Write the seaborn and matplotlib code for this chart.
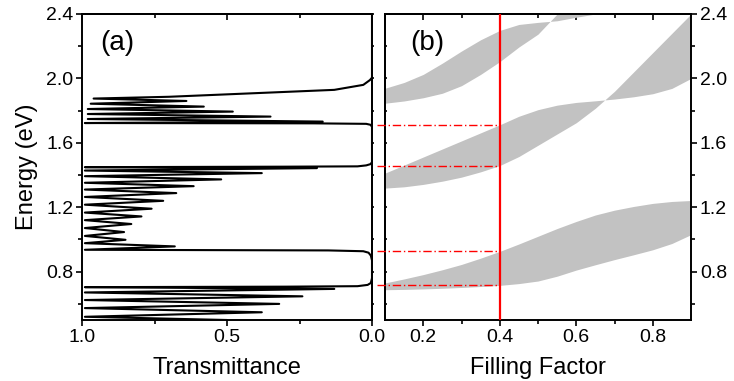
import matplotlib
matplotlib.use("Agg")
import matplotlib.pyplot as plt
import seaborn as sns
import pandas as pd

# ---------------- Panel (a): transmittance spectrum (turning points)
energy_a = [0.500, 0.520, 0.548, 0.574, 0.600, 0.624, 0.647, 0.671, 0.693, 0.704,
            0.707, 0.710, 0.718, 0.730, 0.760, 0.870, 0.900, 0.918, 0.927, 0.932, 0.936,
            0.957, 0.977, 0.998, 1.022, 1.046, 1.071, 1.096, 1.120, 1.143, 1.167,
            1.191, 1.216, 1.240, 1.264, 1.288, 1.310, 1.331, 1.352, 1.373, 1.393,
            1.412, 1.428, 1.443, 1.449,
            1.452, 1.454, 1.460, 1.468, 1.480, 1.700, 1.712, 1.718, 1.721, 1.723,
            1.732, 1.748, 1.763, 1.779, 1.794, 1.810, 1.825, 1.843, 1.860, 1.875,
            1.886, 1.929, 1.960, 1.990, 2.005, 2.400]
trans_a = [0.50, 0.99, 0.38, 0.99, 0.32, 0.99, 0.24, 0.99, 0.13, 0.99,
           0.30, 0.05, 0.015, 0.004, 0.0, 0.0, 0.004, 0.012, 0.03, 0.15, 0.99,
           0.68, 0.99, 0.85, 0.99, 0.855, 0.99, 0.83, 0.99, 0.795, 0.99,
           0.76, 0.99, 0.72, 0.99, 0.675, 0.99, 0.615, 0.99, 0.52, 0.99,
           0.38, 0.99, 0.19, 0.99,
           0.30, 0.05, 0.02, 0.005, 0.0, 0.0, 0.005, 0.02, 0.20, 0.99,
           0.17, 0.98, 0.35, 0.98, 0.48, 0.98, 0.58, 0.97, 0.64, 0.96,
           0.70, 0.13, 0.03, 0.007, 0.0, 0.0]

# ---------------- Panel (b): band-gap edges vs filling factor
filling = [0.10, 0.15, 0.20, 0.25, 0.30, 0.35, 0.40, 0.45, 0.50,
           0.55, 0.60, 0.65, 0.70, 0.75, 0.80, 0.85, 0.90]
gap1_low = [0.688, 0.690, 0.693, 0.697, 0.702, 0.708, 0.715, 0.726, 0.742,
            0.772, 0.810, 0.843, 0.875, 0.905, 0.936, 0.975, 1.030]
gap1_high = [0.730, 0.755, 0.782, 0.812, 0.845, 0.884, 0.926, 0.972, 1.020,
             1.068, 1.112, 1.152, 1.182, 1.205, 1.224, 1.236, 1.242]
gap2_a = [1.319, 1.327, 1.342, 1.362, 1.387, 1.420, 1.459, 1.515, 1.585,
          1.655, 1.725, 1.815, 1.920, 2.040, 2.160, 2.280, 2.400]
gap2_b = [1.412, 1.462, 1.512, 1.562, 1.612, 1.662, 1.712, 1.765, 1.806,
          1.834, 1.851, 1.861, 1.872, 1.886, 1.905, 1.938, 2.000]
gap3_a = [1.846, 1.860, 1.880, 1.908, 1.955, 2.025, 2.104, 2.195, 2.275,
          2.400, 2.400, 2.400, 2.400, 2.400, 2.400, 2.400, 2.400]
gap3_b = [1.939, 1.975, 2.025, 2.095, 2.170, 2.240, 2.298, 2.335, 2.348,
          2.358, 2.380, 2.400, 2.400, 2.400, 2.400, 2.400, 2.400]
ff_marker = 0.4
ff_line_start = 0.078
edge_energies = [0.715, 0.926, 1.459, 1.712]

# ---------------- Ticks
energy_ticks = [0.8, 1.2, 1.6, 2.0, 2.4]
energy_minor = [0.6, 1.0, 1.4, 1.8, 2.2]
trans_ticks = [1.0, 0.5, 0.0]
trans_minor = [0.75, 0.25]
ff_ticks = [0.2, 0.4, 0.6, 0.8]
ff_minor = [0.3, 0.5, 0.7]

sns.set_style("ticks")
plt.rcParams["font.family"] = ["Liberation Sans", "DejaVu Sans"]
plt.rcParams["axes.linewidth"] = 1.4
plt.rcParams["axes.edgecolor"] = "black"
plt.rcParams["xtick.color"] = "black"
plt.rcParams["ytick.color"] = "black"
plt.rcParams["text.color"] = "black"
plt.rcParams["axes.labelcolor"] = "black"

W, H = 734, 381
fig = plt.figure(figsize=(W / 100, H / 100), dpi=100)
axA = fig.add_axes([82 / W, 1 - 320 / H, (372 - 82) / W, (320 - 14) / H])
axB = fig.add_axes([385 / W, 1 - 320 / H, (691 - 385) / W, (320 - 14) / H])

TICK_FS = 14
LABEL_FS = 17
MAJ_LEN, MIN_LEN, TW = 4.3, 2.6, 1.2

# ---- panel (a)
dfa = pd.DataFrame({"T": trans_a, "E": energy_a})
sns.lineplot(data=dfa, x="T", y="E", sort=False, estimator=None,
             color="black", lw=1.5, ax=axA)
axA.set_xlim(1.0, 0.0)
axA.set_ylim(0.5, 2.4)
axA.set_xticks(trans_ticks)
axA.set_xticks(trans_minor, minor=True)
axA.set_xticklabels([f"{t:.1f}" for t in trans_ticks])
axA.set_yticks(energy_ticks)
axA.set_yticks(energy_minor, minor=True)
axA.set_yticklabels([f"{t:.1f}" for t in energy_ticks])
axA.tick_params(which="major", length=MAJ_LEN, width=TW, direction="out",
                labelsize=TICK_FS, pad=2, color="black")
axA.tick_params(which="minor", length=MIN_LEN, width=TW, direction="out",
                color="black")
axA.set_xlabel("Transmittance", fontsize=LABEL_FS, labelpad=8)
axA.set_ylabel("Energy (eV)", fontsize=LABEL_FS, labelpad=6)
axA.text(0.062, 0.905, "(a)", transform=axA.transAxes, fontsize=20,
         ha="left", va="center")

# ---- panel (b)
fill_color = "#c2c2c2"
for lo, hi in [(gap1_low, gap1_high), (gap2_a, gap2_b), (gap3_a, gap3_b)]:
    axB.fill_between(filling, lo, hi, color=fill_color, lw=0)
axB.axvline(ff_marker, color="red", lw=1.6, zorder=5)
axB.hlines(edge_energies, ff_line_start, ff_marker, colors="red", lw=1.0,
           linestyles=[(0, (6, 2, 1, 2))], clip_on=False, zorder=5)
axB.set_xlim(0.1, 0.9)
axB.set_ylim(0.5, 2.4)
axB.set_xticks(ff_ticks)
axB.set_xticks(ff_minor, minor=True)
axB.set_xticklabels([f"{t:.1f}" for t in ff_ticks])
axB.yaxis.tick_right()
axB.set_yticks(energy_ticks)
axB.set_yticks(energy_minor, minor=True)
axB.set_yticklabels([f"{t:.1f}" for t in energy_ticks])
axB.tick_params(which="major", length=MAJ_LEN, width=TW, direction="out",
                labelsize=TICK_FS, pad=2, color="black")
axB.tick_params(which="minor", length=MIN_LEN, width=TW, direction="out",
                color="black")
axB.set_xlabel("Filling Factor", fontsize=LABEL_FS, labelpad=8)
axB.text(0.082, 0.905, "(b)", transform=axB.transAxes, fontsize=20,
         ha="left", va="center")

# ---- extra tick sides (top inward, inner spines short ticks)
for ax, maj, mnr in [(axA, trans_ticks, trans_minor), (axB, ff_ticks, ff_minor)]:
    sec = ax.secondary_xaxis("top")
    sec.set_xticks(maj)
    sec.set_xticks(mnr, minor=True)
    sec.tick_params(axis="x", which="major", direction="in", length=MAJ_LEN,
                    width=TW, labeltop=False, color="black")
    sec.tick_params(axis="x", which="minor", direction="in", length=MIN_LEN,
                    width=TW, color="black")
    sec.spines["top"].set_linewidth(1.4)
    sec.spines["top"].set_color("black")

secA = axA.secondary_yaxis("right")
secA.set_yticks(energy_ticks)
secA.set_yticks(energy_minor, minor=True)
secA.tick_params(axis="y", which="both", direction="out", length=1.6,
                 width=TW, labelright=False, color="black")
secA.spines["right"].set_color("black")
secB = axB.secondary_yaxis("left")
secB.set_yticks(energy_ticks)
secB.set_yticks(energy_minor, minor=True)
secB.tick_params(axis="y", which="both", direction="in", length=1.6,
                 width=TW, labelleft=False, color="black")
secB.spines["left"].set_color("black")

for ax in (axA, axB):
    for s in ax.spines.values():
        s.set_visible(True)
        s.set_linewidth(1.4)
        s.set_color("black")

fig.savefig("out.png", dpi=100)
